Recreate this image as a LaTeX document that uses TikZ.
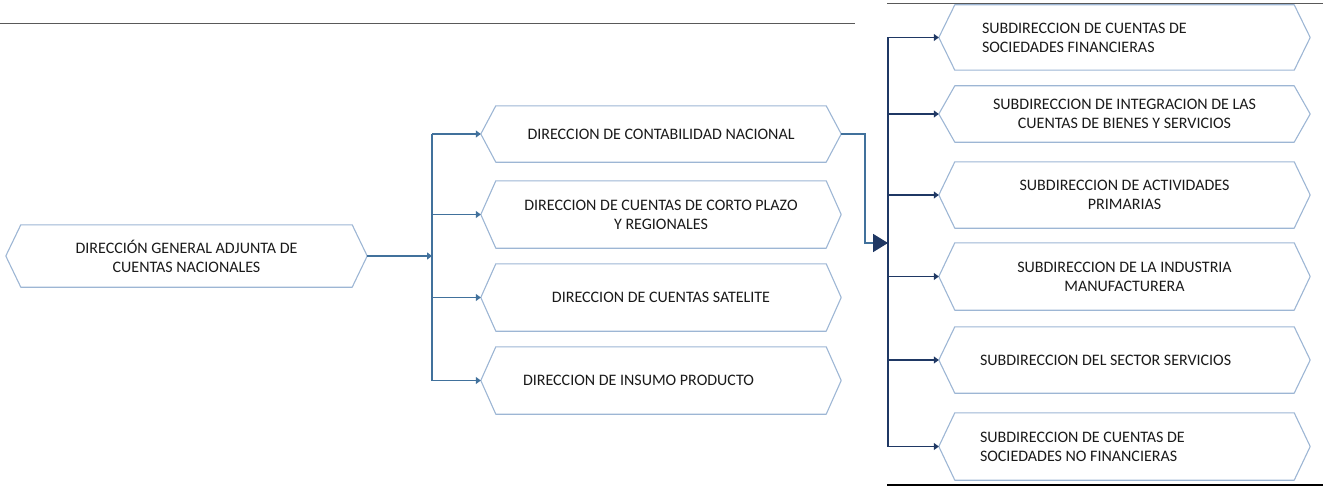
\documentclass[tikz,border=0pt]{standalone}
\usepackage{fontspec}
\setmainfont{Carlito}
\usetikzlibrary{arrows.meta,calc}
\definecolor{hexc}{HTML}{9DB6D4}
\definecolor{connc}{HTML}{41719C}
\definecolor{navyc}{HTML}{1F3864}
\definecolor{rulec}{HTML}{595959}
\definecolor{txtc}{HTML}{1A1A1A}
\tikzset{
  hexbox/.style={shape=rectangle, draw=none, inner ysep=0pt, inner xsep=42pt,
    font=\fontsize{16}{19}\selectfont, text=txtc},
  hexline/.style={draw=hexc, line width=1.1pt, line join=round},
  conn/.style={draw=connc, line width=1.8pt},
  connR/.style={draw=navyc, line width=1.8pt},
  tipS/.style={-{Triangle[length=5pt,width=7pt]}},
  rulel/.style={draw=rulec, line width=1pt},
}
\begin{document}
\begin{tikzpicture}[x=1pt,y=-1pt]
\useasboundingbox (0,0) rectangle (1323,487);
% rules
\coordinate (r1a) at (0,24); \coordinate (r1b) at (855,24);
\coordinate (r2a) at (887,4); \coordinate (r2b) at (1323,4);
\coordinate (r3a) at (887,485); \coordinate (r3b) at (1323,485);
\draw[rulel] (r1a) -- (r1b);
\draw[rulel] (r2a) -- (r2b);
\draw[draw=black, line width=1.4pt] (r3a) -- (r3b);

% main node
\node[hexbox, minimum width=361pt, minimum height=62pt, align=center] (m) at (186.5,256)
  {DIRECCIÓN GENERAL ADJUNTA DE\\CUENTAS NACIONALES};

% level 2
\node[hexbox, minimum width=360pt, minimum height=56pt, align=center] (d1) at (661,134)
  {DIRECCION DE CONTABILIDAD NACIONAL};
\node[hexbox, minimum width=360pt, minimum height=67pt, align=center] (d2) at (661,214.5)
  {DIRECCION DE CUENTAS DE CORTO PLAZO\\Y REGIONALES};
\node[hexbox, minimum width=360pt, minimum height=67pt, align=center] (d3) at (661,297.5)
  {DIRECCION DE CUENTAS SATELITE};
\node[hexbox, minimum height=67pt, text width=276pt, align=flush left] (d4) at (661,380.5)
  {DIRECCION DE INSUMO PRODUCTO};

% level 3
\node[hexbox, minimum height=65pt, inner xsep=43pt, text width=285pt, align=flush left] (s1) at (1124.5,37.5)
  {SUBDIRECCION DE CUENTAS DE\\SOCIEDADES FINANCIERAS};
\node[hexbox, minimum width=371pt, minimum height=56pt, align=center] (s2) at (1124.5,114)
  {SUBDIRECCION DE INTEGRACION DE LAS\\CUENTAS DE BIENES Y SERVICIOS};
\node[hexbox, minimum width=371pt, minimum height=66pt, align=center] (s3) at (1124.5,195)
  {SUBDIRECCION DE ACTIVIDADES\\PRIMARIAS};
\node[hexbox, minimum width=371pt, minimum height=67pt, align=center] (s4) at (1124.5,276.5)
  {SUBDIRECCION DE LA INDUSTRIA\\MANUFACTURERA};
\node[hexbox, minimum height=66pt, inner xsep=41pt, text width=289pt, align=flush left] (s5) at (1124.5,360)
  {SUBDIRECCION DEL SECTOR SERVICIOS};
\node[hexbox, minimum height=67pt, inner xsep=41pt, text width=289pt, align=flush left] (s6) at (1124.5,446.5)
  {SUBDIRECCION DE CUENTAS DE\\SOCIEDADES NO FINANCIERAS};

% hexagon outlines
\foreach \n/\t in {m/15,d1/15,d2/15,d3/15,d4/15,s1/16,s2/16,s3/16,s4/16,s5/16,s6/16}{
  \draw[hexline] (\n.west) -- ([xshift=\t pt]\n.north west) -- ([xshift=-\t pt]\n.north east)
    -- (\n.east) -- ([xshift=-\t pt]\n.south east) -- ([xshift=\t pt]\n.south west) -- cycle;
}

% left connectors
\coordinate (busL) at (432,256);
\draw[conn] (d1.west -| busL) -- (d4.west -| busL);
\draw[conn,tipS] (m.east) -- (m.east -| busL);
\foreach \n in {d1,d2,d3,d4}{
  \draw[conn,tipS] (\n.west -| busL) -- (\n.west);
}

% right connectors
\coordinate (elbow) at (865,243);
\coordinate (busR) at (888,245);
\draw[conn,-{Triangle[length=15pt,width=18pt,color=navyc]}] (d1.east) -- (d1.east -| elbow) -- (elbow) -- (elbow -| busR);
\draw[connR] (s1.west -| busR) -- (s6.west -| busR);
\foreach \n in {s1,s2,s3,s4,s5,s6}{
  \draw[connR,tipS] (\n.west -| busR) -- (\n.west);
}
\end{tikzpicture}
\end{document}
